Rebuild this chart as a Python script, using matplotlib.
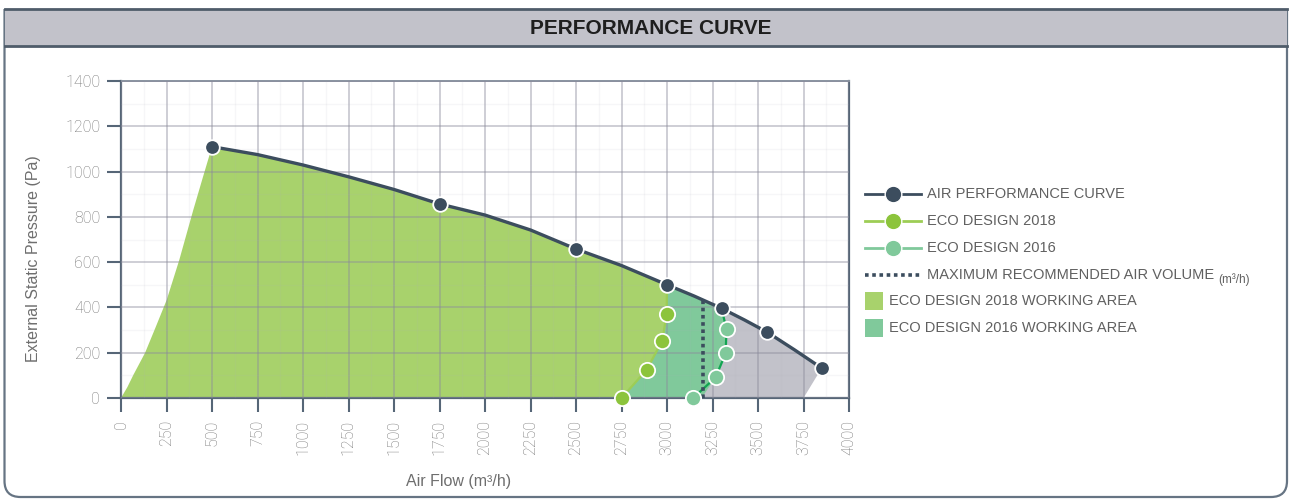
import numpy as np
import matplotlib
matplotlib.use("Agg")
from matplotlib import pyplot as plt
from matplotlib.path import Path
from matplotlib.patches import PathPatch, Rectangle
from matplotlib.lines import Line2D
from matplotlib.ticker import MultipleLocator

# air performance curve, air flow (m3/h) vs pressure (Pa)
curve_flow = [500, 750, 1000, 1250, 1500, 1750, 2000, 2250, 2500, 2750,
              3000, 3150, 3300, 3425, 3550, 3700, 3850]
curve_pressure = [1110, 1075, 1029, 977, 921, 857, 808, 742, 658, 585,
                  500, 450, 396, 345, 291, 213, 132]
curve_marker_flow = [500, 1750, 2500, 3000, 3300, 3550, 3850]
curve_marker_pressure = [1110, 857, 658, 500, 396, 291, 132]

eco2018_flow = [2750, 2888, 2974, 2998]
eco2018_pressure = [0, 124, 253, 371]
eco2016_flow = [3144, 3267, 3322, 3327]
eco2016_pressure = [0, 91, 197, 303]

# left edge of the working area (0 -> first curve point)
left_edge_flow = [0, 35, 68, 132, 190, 251, 320, 397, 450, 500]
left_edge_pressure = [0, 48, 102, 199, 312, 433, 609, 830, 975, 1110]

eco2018_top = 3000       # where eco 2018 meets the curve
eco2016_top = 3300
area2016_bottom = 3190
grey_bottom = 3750
max_air_volume = 3200

x_ticks = list(range(0, 4001, 250))
y_ticks = list(range(0, 1401, 200))

dark = "#3c4d5e"
spine_c = "#566677"
green18 = "#a8d26c"
green18_mk = "#8cc43c"
green16 = "#80c99b"
green16_line = "#12a552"
grey_fill = "#c2c2ca"
txt_c = "#747474"
sans = ["Liberation Sans", "DejaVu Sans"]

plt.rcParams['font.family'] = ['Roboto', 'DejaVu Sans']

fig = plt.figure(figsize=(12.9, 5), dpi=100)

# background frame + header, drawn in pixel coords
bg = fig.add_axes([0, 0, 1, 1])
bg.set_xlim(0, 1290)
bg.set_ylim(500, 0)
bg.axis("off")
bg.set_zorder(0)
r = 16
L, R, T, B = 4.5, 1287, 9, 497
verts = [(L, T), (L, B - r), (L, B), (L + r, B), (R - r, B), (R, B), (R, B - r), (R, T)]
codes = [Path.MOVETO, Path.LINETO, Path.CURVE3, Path.CURVE3, Path.LINETO,
         Path.CURVE3, Path.CURVE3, Path.LINETO]
bg.add_patch(PathPatch(Path(verts, codes), facecolor="white", edgecolor="#667483", lw=1.6))
bg.add_patch(Rectangle((L, T), R - L, 37, facecolor="#c2c2ca", edgecolor="none"))
bg.plot([L, R], [T, T], color="#4f5c6a", lw=2)
bg.plot([L, R], [T + 37, T + 37], color="#4f5c6a", lw=2)
bg.text(651, 28.5, "PERFORMANCE CURVE", ha="center", va="center", fontsize=15,
        fontweight="bold", family=sans, color="#1e1e1e")

# main chart
ax = fig.add_axes([121 / 1290, 102 / 500, 728 / 1290, 317 / 500])
ax.set_zorder(1)

cf = np.array(curve_flow)
cp = np.array(curve_pressure)

# grey total area
m = cf >= eco2018_top
gx = list(cf[m]) + [grey_bottom, eco2018_flow[0]]
gy = list(cp[m]) + [0, 0]
ax.fill(gx, gy, color=grey_fill, lw=0, zorder=1)

# eco 2018 working area
line18_x = eco2018_flow + [eco2018_top]
line18_y = eco2018_pressure + [np.interp(eco2018_top, cf, cp)]
m = (cf > left_edge_flow[-1]) & (cf < eco2018_top)
ax.fill(left_edge_flow + list(cf[m]) + line18_x[::-1],
        left_edge_pressure + list(cp[m]) + line18_y[::-1],
        color=green18, lw=0, zorder=1)

# eco 2016 working area
line16_x = eco2016_flow + [eco2016_top]
line16_y = eco2016_pressure + [np.interp(eco2016_top, cf, cp)]
m = (cf > eco2018_top) & (cf < eco2016_top)
ax.fill(line18_x + list(cf[m]) + line16_x[:0:-1] + [area2016_bottom],
        line18_y + list(cp[m]) + line16_y[:0:-1] + [0],
        color=green16, lw=0, zorder=1)

# lines
ax.plot(line18_x, line18_y, color="#9dcd55", lw=1.6, zorder=4)
ax.plot(line16_x, line16_y, color=green16_line, lw=1.6, zorder=4)
ax.plot(cf, cp, color=dark, lw=2.4, zorder=4, solid_capstyle="round")
ax.plot([max_air_volume, max_air_volume], [0, np.interp(max_air_volume, cf, cp)],
        color=dark, lw=2.6, ls=(0, (1, 1)), zorder=4)

# markers
ax.plot(curve_marker_flow, curve_marker_pressure, "o", ms=10.5, mfc=dark,
        mec="white", mew=1.3, zorder=6, clip_on=False)
ax.plot(eco2018_flow, eco2018_pressure, "o", ms=11, mfc=green18_mk,
        mec="white", mew=1.3, zorder=6, clip_on=False)
ax.plot(eco2016_flow, eco2016_pressure, "o", ms=11, mfc=green16,
        mec="white", mew=1.3, zorder=6, clip_on=False)

ax.set_xlim(0, 4000)
ax.set_ylim(0, 1400)
ax.set_xticks(x_ticks)
ax.set_yticks(y_ticks)
ax.xaxis.set_minor_locator(MultipleLocator(125))
ax.yaxis.set_minor_locator(MultipleLocator(100))
ax.set_axisbelow(False)
ax.grid(True, which="major", color="#8b8b9b", alpha=0.45, lw=1.3)
ax.grid(True, which="minor", color="#b0b0bb", alpha=0.1, lw=1.0)
ax.tick_params(which="minor", length=0)
ax.tick_params(axis="both", which="major", direction="out", length=10, width=1.5,
               color=spine_c, labelcolor=txt_c, labelsize=11.5)
ax.tick_params(axis="y", pad=5)
ax.tick_params(axis="x", pad=6, labelrotation=90)
for lab in ax.get_xticklabels() + ax.get_yticklabels():
    lab.set_fontweight("light")
for s in ["left", "bottom", "right"]:
    ax.spines[s].set_color(spine_c)
    ax.spines[s].set_linewidth(1.6)
ax.spines["top"].set_color("#8893a0")
ax.spines["top"].set_linewidth(1.4)

ax.set_xlabel("Air Flow (m³/h)", fontsize=11.5, color="#6e6e6e", family=sans)
ax.xaxis.set_label_coords(0.463, -0.24)
ax.set_ylabel("External Static Pressure (Pa)", fontsize=11.5, color="#6e6e6e",
              family=sans)
ax.yaxis.set_label_coords(-0.11, 0.44)

# legend, hand placed
leg_c = "#606060"
rows = [194, 221, 248, 275]
names = ["AIR PERFORMANCE CURVE", "ECO DESIGN 2018", "ECO DESIGN 2016"]
mk_cols = [dark, green18_mk, green16]
ln_cols = [dark, "#9dcd55", green16]
for y, n, mc, lc in zip(rows, names, mk_cols, ln_cols):
    bg.add_line(Line2D([865, 921], [y, y], color=lc, lw=2))
    bg.add_line(Line2D([893], [y], marker="o", ms=12, mfc=mc, mec="white", mew=1))
    bg.text(927, y, n, va="center", ha="left", fontsize=10.5, color=leg_c, family=sans)
bg.add_line(Line2D([865, 921], [rows[3], rows[3]], color=dark, lw=2.6, ls=(0, (1, 1))))
t = bg.text(927, rows[3], "MAXIMUM RECOMMENDED AIR VOLUME", va="center", ha="left",
            fontsize=10.5, color=leg_c, family=sans)
bg.annotate("(m³/h)", xy=(1, 0.5), xycoords=t, xytext=(3, -3), textcoords="offset points",
            va="center", ha="left", fontsize=8.5, color=leg_c, family=sans)
for y, n, c in zip([301, 328], ["ECO DESIGN 2018 WORKING AREA", "ECO DESIGN 2016 WORKING AREA"],
                   [green18, green16]):
    bg.add_patch(Rectangle((865, y - 9), 18, 18, facecolor=c, edgecolor="none"))
    bg.text(889, y, n, va="center", ha="left", fontsize=10.5, color=leg_c, family=sans)

fig.savefig("out.png", dpi=100)
